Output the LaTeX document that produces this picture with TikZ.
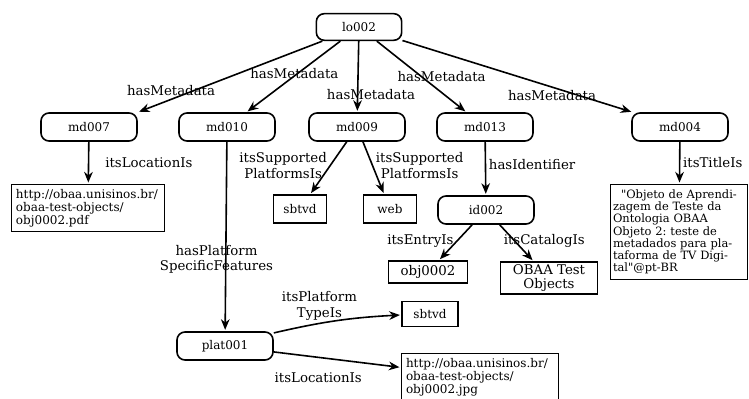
\documentclass[tikz,border=0pt]{standalone}
\usepackage{fontspec}
\setmainfont{DejaVu Serif}
\usetikzlibrary{arrows.meta}
\frenchspacing

\begin{document}
\begin{tikzpicture}[->,>={Stealth[length=8pt,width=6.5pt]},shorten >=1pt,x=0.75pt,y=-0.75pt,line width=1.2pt,
  res/.style={draw,rounded corners=6pt,minimum width=72pt,minimum height=21pt,font=\fontsize{9}{10}\selectfont},
  lit/.style={draw,rectangle,font=\fontsize{9}{9.75}\selectfont},
  lbl/.style={font=\fontsize{10}{11.5}\selectfont,align=center,inner sep=2pt}]

  \useasboundingbox (0,0) rectangle (749,399);

  \node[res,minimum width=64pt,minimum height=20pt] (lo002) at (359,27) {lo002};
  \node[res] (md007) at (89,127) {md007};
  \node[res] (md010) at (227,127) {md010};
  \node[res] (md009) at (357,127) {md009};
  \node[res] (md013) at (485,127) {md013};
  \node[res] (md004) at (680,127) {md004};

  \node[lit,text width=108pt,align=left] (url1) at (88,208) {http://obaa.unisinos.br/\\obaa-test-objects/\\obj0002.pdf};
  \node[lit,minimum width=40pt,minimum height=21pt] (sbtvd) at (300,209) {sbtvd};
  \node[lit,minimum width=40pt,minimum height=21pt] (web) at (390,209) {web};
  \node[res] (id002) at (486,210) {id002};
  \node[lit,text width=99pt,inner sep=2pt,align=left,minimum height=71pt,font=\fontsize{8.6}{9.2}\selectfont] (title) at (679,232)
    {\hspace*{6pt}\textquotedbl Objeto de Aprendi-\\zagem de Teste da\\Ontologia OBAA\\Objeto 2: teste de\\metadados para pla-\\taforma de TV Digi-\\tal\textquotedbl @pt-BR};
  \node[lit,minimum width=59pt,minimum height=16pt,font=\fontsize{10}{11}\selectfont] (obj0002) at (428,272) {obj0002};
  \node[lit,minimum width=73pt,minimum height=24pt,align=center,inner sep=1pt,font=\fontsize{10}{11}\selectfont] (catalog) at (549,278) {OBAA Test\\Objects};

  \node[res] (plat001) at (225,346) {plat001};
  \node[lit,minimum width=42pt,minimum height=19pt] (sbtvd2) at (430,314) {sbtvd};
  \node[lit,text width=111pt,align=left] (url2) at (480,377) {http://obaa.unisinos.br/\\obaa-test-objects/\\obj0002.jpg};

  \path[every node/.style={lbl}]
  (lo002) edge node[pos=.82,above] {hasMetadata} (md007.north east)
          edge node[pos=.49,yshift=2pt] {hasMetadata} (md010)
          edge node[pos=.75,xshift=10pt] {hasMetadata} (md009)
          edge node[pos=.5,xshift=15pt] {hasMetadata} (md013)
          edge node[pos=.65,below] {hasMetadata} (md004)
  (md007) edge node[right=10pt] {itsLocationIs} (url1)
  (md009) edge node[pos=.45,left] {itsSupported\\PlatformsIs} (sbtvd)
          edge node[pos=.45,right] {itsSupported\\PlatformsIs} (web)
  (md013) edge node[pos=.42,right] {hasIdentifier} (id002)
  (md004) edge node[right] {itsTitleIs} (title)
  (id002) edge node[pos=.46,left] {itsEntryIs} (obj0002)
          edge node[pos=.45,xshift=22pt] {itsCatalogIs} (catalog)
  (md010) edge node[pos=.62,xshift=-7pt] {hasPlatform\\SpecificFeatures} (plat001)
  (plat001.15) edge[bend left=5] node[pos=.35,above] {itsPlatform\\TypeIs} (sbtvd2)
  (plat001) edge node[pos=.35,below=9pt] {itsLocationIs} (url2)
  ;

\end{tikzpicture}
\end{document}
